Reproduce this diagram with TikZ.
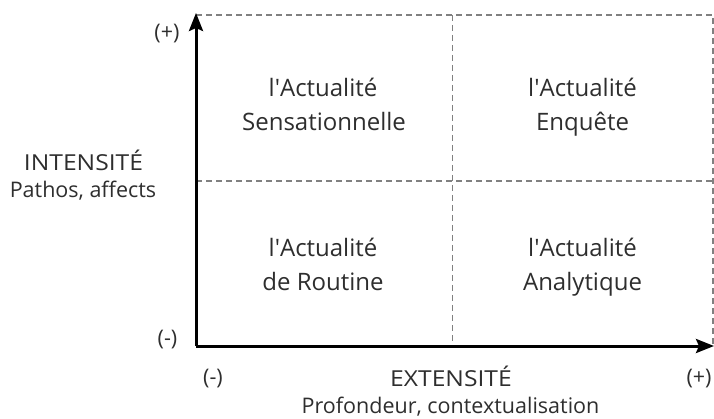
\documentclass[tikz,border=0pt]{standalone}
\usepackage{fontspec}
\setmainfont{Open Sans}
\usetikzlibrary{arrows.meta}
\begin{document}
\begin{tikzpicture}[x=1pt,y=-1pt,
  txt/.style={font=\fontsize{21.5}{24}\selectfont, text=black!82, inner sep=0pt},
  capt/.style={txt, font=\fontsize{22}{24}\selectfont, anchor=base},
  sub/.style={txt, anchor=base},
  quad/.style={txt, font=\fontsize{24}{28}\selectfont, anchor=base},
  grid/.style={draw=black!50, line width=1.3pt, dash pattern=on 6pt off 4pt},
  axis/.style={draw=black, line width=3pt, -{Stealth[length=18pt,width=14pt,inset=3pt]}}]
\useasboundingbox (0,0) rectangle (714,419);
\coordinate (O) at (196,346);
\coordinate (Ytop) at (196,13);
\coordinate (Xend) at (714,346);
\coordinate (TL) at (196,15);
\coordinate (TR) at (713,15);
\coordinate (BR) at (713,346);
\coordinate (MT) at (452.5,15);
\coordinate (MB) at (452.5,346);
\coordinate (ML) at (196,181);
\coordinate (MR) at (713,181);
\draw[grid] (TL) -- (TR) -- (BR);
\draw[grid] (MT) -- (MB);
\draw[grid] (ML) -- (MR);
\draw[axis] (O) -- (Ytop);
\draw[axis] (O) -- (Xend);
\node[txt] (yp) at (167,34) {(+)};
\node[txt] (ym) at (167.5,340) {(-)};
\node[txt] (xm) at (213,378.5) {(-)};
\node[txt] (xp) at (699,378.5) {(+)};
\node[capt] (ext) at (451,386) {\scalebox{1.12}[1]{EXTENSITÉ}};
\node[sub] (prof) at (450.5,413.5) {Profondeur, contextualisation};
\node[capt] (int) at (83.5,171) {\scalebox{1.12}[1]{INTENSITÉ}};
\node[sub] (path) at (83,198) {Pathos, affects};
\node[quad] (q1a) at (323,97) {l\textquotesingle Actualité};
\node[quad] (q1b) at (324,131) {Sensationnelle};
\node[quad] (q2a) at (582.5,97) {l\textquotesingle Actualité};
\node[quad] (q2b) at (582.5,131) {Enquête};
\node[quad] (q3a) at (323,256.5) {l\textquotesingle Actualité};
\node[quad] (q3b) at (323,290.5) {de Routine};
\node[quad] (q4a) at (582.5,256.5) {l\textquotesingle Actualité};
\node[quad] (q4b) at (582.5,290.5) {Analytique};
\end{tikzpicture}
\end{document}
